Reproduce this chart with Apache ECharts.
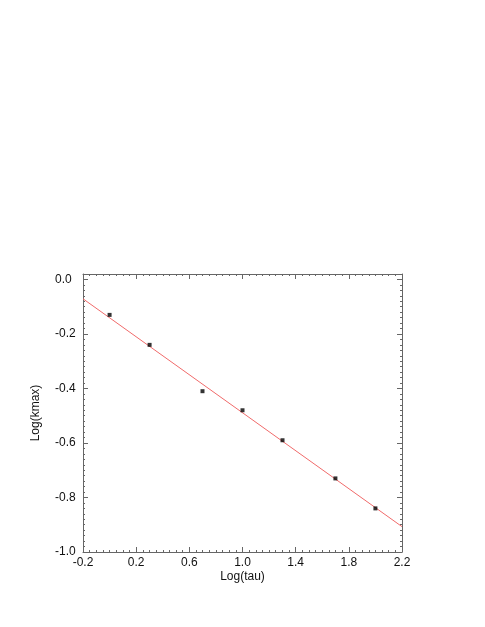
<!DOCTYPE html>
<html>
<head>
<meta charset="utf-8">
<script src="https://cdn.jsdelivr.net/npm/echarts@6/dist/echarts.min.js"></script>
<style>
  html, body { margin: 0; padding: 0; background: #fff; }
  #echar { width: 485px; height: 627px; }
</style>
</head>
<body>
<div id="echar"></div>
<script>
// measured points, log10 of tau = 1,2,5,10,20,50,100
var logTau = [0, 0.301, 0.699, 1.0, 1.301, 1.699, 2.0];
var logKmax = [-0.13, -0.24, -0.41, -0.48, -0.59, -0.73, -0.84];
// fitted line, end points read at the plot edges
var fitX = [-0.2, 2.2];
var fitY = [-0.071, -0.907];

var font = "Liberation Sans, Arial, sans-serif";
var axisCol = "#666";

var pts = logTau.map(function (x, i) { return [x, logKmax[i]]; });
var fit = fitX.map(function (x, i) { return [x, fitY[i]]; });

function fmt(v) { return v.toFixed(1); }

var mychart = echarts.init(document.getElementById("echar"));

var option = {
  animation: false,
  grid: [
    { left: 83, right: 83, top: 274, bottom: 75 },
    { left: 83, right: 83, top: 274, bottom: 75 },
  ],
  xAxis: [
    {
      gridIndex: 0, type: "value", position: "bottom",
      min: -0.2, max: 2.2, interval: 0.4,
      axisLine: { onZero: false, lineStyle: { color: axisCol, width: 1 } },
      axisTick: { inside: true, length: 5, lineStyle: { color: axisCol } },
      minorTick: { show: true, splitNumber: 8, length: 2, lineStyle: { color: axisCol } },
      splitLine: { show: false },
      axisLabel: { formatter: fmt, color: "#111", fontSize: 12, fontFamily: font, margin: 5 },
      name: "Log(tau)", nameLocation: "middle", nameGap: 19,
      nameTextStyle: { color: "#111", fontSize: 12, fontFamily: font },
    },
    {
      gridIndex: 0, type: "value", position: "top",
      min: -0.2, max: 2.2, interval: 0.4,
      axisLine: { onZero: false, lineStyle: { color: axisCol, width: 1 } },
      axisTick: { inside: true, length: 5, lineStyle: { color: axisCol } },
      minorTick: { show: true, splitNumber: 8, length: 2, lineStyle: { color: axisCol } },
      splitLine: { show: false },
      axisLabel: { show: false },
    },
    {
      gridIndex: 1, type: "value", show: false,
      min: -0.2, max: 2.2,
      axisLine: { onZero: false },
    },
  ],
  yAxis: [
    {
      gridIndex: 0, type: "value", position: "left",
      min: -1, max: 0.02, interval: 0.2,
      axisLine: { show: true, onZero: false, lineStyle: { color: axisCol, width: 1 } },
      axisTick: { show: true, inside: true, length: 5, lineStyle: { color: axisCol } },
      splitLine: { show: false },
      axisLabel: {
        formatter: fmt, showMaxLabel: false, color: "#111",
        fontSize: 12, fontFamily: font, align: "left", margin: 28,
      },
      name: "Log(kmax)", nameLocation: "middle", nameGap: 41,
      nameTextStyle: { color: "#111", fontSize: 12, fontFamily: font },
    },
    {
      gridIndex: 0, type: "value", position: "right",
      min: -1, max: 0.02, interval: 0.2,
      axisLine: { show: true, onZero: false, lineStyle: { color: axisCol, width: 1 } },
      axisTick: { show: true, inside: true, length: 5, lineStyle: { color: axisCol } },
      splitLine: { show: false },
      axisLabel: { show: false },
    },
    // minor ticks every 0.02 on both sides
    {
      gridIndex: 1, type: "value", position: "left",
      min: -1, max: 0.02, interval: 0.02,
      axisLine: { show: false, onZero: false },
      axisTick: { show: true, inside: true, length: 2, lineStyle: { color: axisCol } },
      splitLine: { show: false },
      axisLabel: { show: false },
    },
    {
      gridIndex: 1, type: "value", position: "right",
      min: -1, max: 0.02, interval: 0.02,
      axisLine: { show: false, onZero: false },
      axisTick: { show: true, inside: true, length: 2, lineStyle: { color: axisCol } },
      splitLine: { show: false },
      axisLabel: { show: false },
    },
  ],
  series: [
    {
      type: "line",
      xAxisIndex: 0, yAxisIndex: 0,
      data: fit,
      showSymbol: false,
      lineStyle: { color: "#f06a6a", width: 1 },
      z: 2,
    },
    {
      type: "scatter",
      xAxisIndex: 0, yAxisIndex: 0,
      data: pts,
      symbol: "rect",
      symbolSize: 4,
      itemStyle: { color: "#000" },
      z: 3,
    },
  ],
};
mychart.setOption(option);
</script>
</body>
</html>
